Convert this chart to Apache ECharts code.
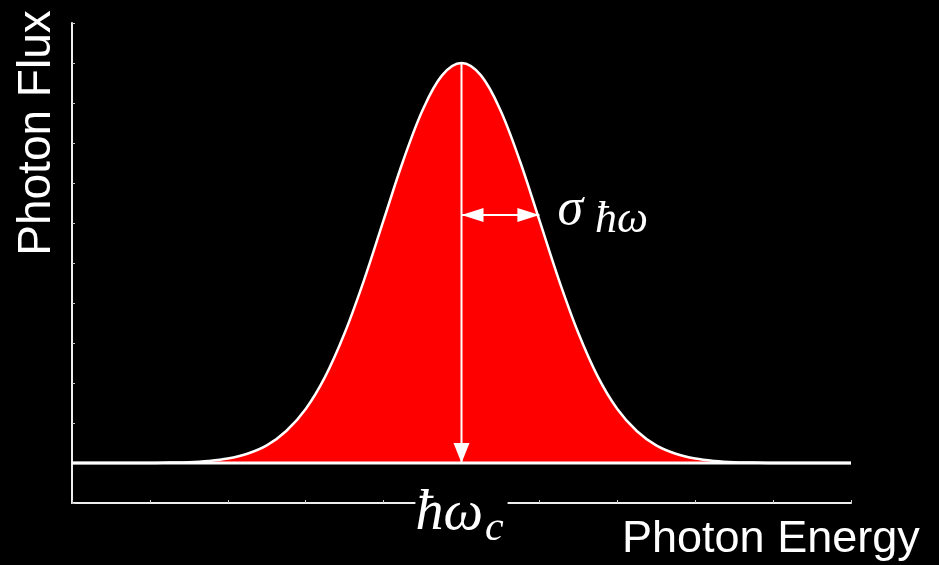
<!DOCTYPE html>
<html>
<head>
<meta charset="utf-8">
<script src="https://cdn.jsdelivr.net/npm/echarts@6/dist/echarts.min.js"></script>
<style>
  html, body { margin: 0; padding: 0; background: #000; }
  #chart { width: 939px; height: 565px; }
</style>
</head>
<body>
<div id="chart"></div>
<script>
// Photon energy samples (x) and flux above the baseline (y) for the emission line
const energySamples = [
  0, 0.25, 0.5, 0.75, 1, 1.25, 1.5, 1.75, 2, 2.25,
  2.5, 2.75, 3, 3.25, 3.5, 3.75, 4, 4.25, 4.5, 4.75,
  5, 5.25, 5.5, 5.75, 6, 6.25, 6.5, 6.75, 7, 7.25,
  7.5, 7.75, 8, 8.25, 8.5, 8.75, 9, 9.25, 9.5, 9.75, 10
];
const fluxAboveBaseline = [
  0, 0, 0, 0, 0, 0.01, 0.02, 0.05, 0.11, 0.23,
  0.44, 0.80, 1.35, 2.16, 3.25, 4.58, 6.07, 7.55, 8.82, 9.69,
  10.0, 9.69, 8.82, 7.55, 6.07, 4.58, 3.25, 2.16, 1.35, 0.80,
  0.44, 0.23, 0.11, 0.05, 0.02, 0.01, 0, 0, 0, 0, 0
];
const baselineFlux = 1;

// Line centre, peak height and width marker
const peakEnergy = 5;
const peakFlux = 11;
const sigmaWidth = 1;
const sigmaArrowFlux = 7.2;

// Axis ranges
const energyRange = [0, 10];
const fluxRange = [0, 12];

const baselineData = energyRange.map(e => [e, baselineFlux]);
const fluxData = energySamples.map((e, i) => [e, baselineFlux + fluxAboveBaseline[i]]);

// Arrow specs: [x0, y0, x1, y1, headAtStart, headAtEnd]
const arrowSpecs = [
  [peakEnergy, peakFlux, peakEnergy, baselineFlux, 0, 1],
  [peakEnergy, sigmaArrowFlux, peakEnergy + sigmaWidth, sigmaArrowFlux, 1, 1]
];

const mathFont = '"Liberation Serif", "DejaVu Serif", serif';
const sansFont = '"Liberation Sans", Arial, sans-serif';

function arrowHead(tip, ux, uy, len, half) {
  const bx = tip[0] - ux * len, by = tip[1] - uy * len;
  return {
    type: 'polygon',
    shape: { points: [tip, [bx - uy * half, by + ux * half], [bx + uy * half, by - ux * half]] },
    style: { fill: '#fff' }
  };
}

function renderArrow(params, api) {
  const a = api.coord([api.value(0), api.value(1)]);
  const b = api.coord([api.value(2), api.value(3)]);
  const dx = b[0] - a[0], dy = b[1] - a[1];
  const len = Math.hypot(dx, dy);
  const ux = dx / len, uy = dy / len;
  const horizontal = Math.abs(dx) > Math.abs(dy);
  const hl = horizontal ? 22 : 20;
  const hw = horizontal ? 7 : 8;
  const children = [{
    type: 'line',
    shape: { x1: a[0], y1: a[1], x2: b[0], y2: b[1] },
    style: { stroke: '#fff', lineWidth: 2 }
  }];
  if (api.value(5)) children.push(arrowHead(b, ux, uy, hl, hw));
  if (api.value(4)) children.push(arrowHead(a, -ux, -uy, hl, hw));
  return { type: 'group', children };
}

const chart = echarts.init(document.getElementById('chart'), null, { renderer: 'canvas' });

chart.setOption({
  backgroundColor: '#000',
  animation: false,
  grid: { left: 72, right: 88, top: 23, bottom: 62, containLabel: false },
  xAxis: {
    type: 'value',
    min: energyRange[0],
    max: energyRange[1],
    interval: 1,
    axisLine: { show: true, lineStyle: { color: '#eee', width: 2 } },
    axisTick: { show: true, inside: true, length: 3, lineStyle: { color: '#ccc', width: 1 } },
    splitLine: { show: false },
    axisLabel: {
      show: true,
      margin: -25,
      showMinLabel: true,
      showMaxLabel: true,
      backgroundColor: '#000',
      padding: [0, 4, 0, 0],
      formatter: v => (v === peakEnergy ? '{h|ħω}{c|c}' : ''),
      rich: {
        h: { fontFamily: mathFont, fontStyle: 'italic', fontSize: 56, color: '#fff', lineHeight: 50 },
        c: { fontFamily: mathFont, fontStyle: 'italic', fontSize: 42, color: '#fff', verticalAlign: 'bottom', padding: [30, 0, 0, 2] }
      }
    }
  },
  yAxis: {
    type: 'value',
    min: fluxRange[0],
    max: fluxRange[1],
    interval: 1,
    axisLine: { show: true, lineStyle: { color: '#eee', width: 2 } },
    axisTick: { show: true, inside: true, length: 3, lineStyle: { color: '#ccc', width: 1 } },
    splitLine: { show: false },
    axisLabel: { show: false }
  },
  graphic: [
    {
      type: 'text',
      x: 37, y: 133,
      rotation: Math.PI / 2,
      style: {
        text: 'Photon Flux', fill: '#fff', font: '46px ' + sansFont,
        align: 'center', verticalAlign: 'middle'
      }
    },
    {
      type: 'text',
      x: 622, y: 540,
      style: {
        text: 'Photon Energy', fill: '#fff', font: '45px ' + sansFont,
        align: 'left', verticalAlign: 'middle'
      }
    }
  ],
  series: [
    {
      name: 'Photon Flux',
      type: 'line',
      data: fluxData,
      smooth: 0.35,
      showSymbol: false,
      lineStyle: { color: '#fff', width: 2.5 },
      areaStyle: { color: '#ff0000', opacity: 1, origin: baselineFlux },
      z: 3
    },
    {
      name: 'Baseline',
      type: 'line',
      data: baselineData,
      showSymbol: false,
      lineStyle: { color: '#fff', width: 3 },
      z: 4
    },
    {
      name: 'Markers',
      type: 'custom',
      coordinateSystem: 'cartesian2d',
      encode: { x: [0, 2], y: [1, 3] },
      data: arrowSpecs,
      renderItem: renderArrow,
      z: 5
    },
    {
      name: 'Width label',
      type: 'scatter',
      data: [[peakEnergy + sigmaWidth, sigmaArrowFlux]],
      symbolSize: 0,
      itemStyle: { opacity: 1 },
      z: 6,
      label: {
        show: true,
        position: 'right',
        distance: 18,
        offset: [0, -5],
        color: '#fff',
        opacity: 1,
        formatter: '{s|σ}{sub|ħω}',
        rich: {
          s: { fontFamily: mathFont, fontStyle: 'italic', fontSize: 52, color: '#fff' },
          sub: { fontFamily: mathFont, fontStyle: 'italic', fontSize: 44, color: '#fff', verticalAlign: 'bottom', padding: [20, 0, 0, 12] }
        }
      }
    }
  ]
});
</script>
</body>
</html>
